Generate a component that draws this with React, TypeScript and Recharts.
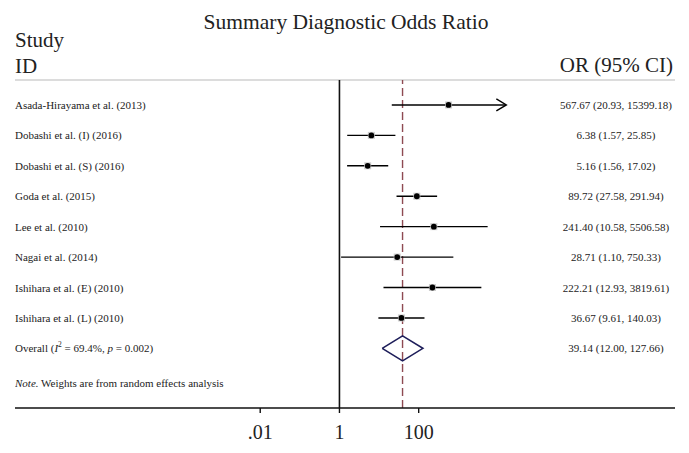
import React from "react";
import { ComposedChart, Scatter, XAxis, YAxis, ReferenceLine, ErrorBar } from "recharts";

// Study rows
const studies = [
    "Asada-Hirayama et al. (2013)",
    "Dobashi et al. (I) (2016)",
    "Dobashi et al. (S) (2016)",
    "Goda et al. (2015)",
    "Lee et al. (2010)",
    "Nagai et al. (2014)",
    "Ishihara et al. (E) (2010)",
    "Ishihara et al. (L) (2010)",
];
const oddsRatios = [567.67, 6.38, 5.16, 89.72, 241.4, 28.71, 222.21, 36.67];
const lowerCI = [20.93, 1.57, 1.56, 27.58, 10.58, 1.1, 12.93, 9.61];
const upperCI = [15399.18, 25.85, 17.02, 291.94, 5506.58, 750.33, 3819.61, 140.03];

const overallOR = 39.14;
const overallLower = 12.0;
const overallUpper = 127.66;

const xTicks = [0.01, 1, 100];
const xTickLabels = [".01", "1", "100"];

const FONT = "'Liberation Serif', 'Times New Roman', serif";
const W = 689;
const H = 453;

// log axis spans the whole panel, like Stata's forest plot (text columns sit inside it)
const xMin = Math.pow(10, -8.19);
const xMax = Math.pow(10, 8.47);
const yTop = -0.82;
const yBottom = 9.96;
const overallRow = studies.length;
const noteRow = 9.15;
const arrowLimit = 10000;
const diamondHalf = 0.41;

const fmt = (v: number) => v.toFixed(2);

const studyData = studies.map((s, i) => ({
    x: oddsRatios[i],
    y: i,
    err: [oddsRatios[i] - lowerCI[i], upperCI[i] - oddsRatios[i]],
}));

const arrowData = studies
    .map((s, i) => ({ x: upperCI[i], y: i }))
    .filter((d) => d.x > arrowLimit);

const diamondData = [
    { x: overallLower, y: overallRow },
    { x: overallOR, y: overallRow - diamondHalf },
    { x: overallUpper, y: overallRow },
    { x: overallOR, y: overallRow + diamondHalf },
    { x: overallLower, y: overallRow },
];

const labelData = [
    ...studies.map((s, i) => ({
        x: xMin,
        y: i,
        kind: "study",
        label: s,
        ci: `${fmt(oddsRatios[i])} (${fmt(lowerCI[i])}, ${fmt(upperCI[i])})`,
    })),
    {
        x: xMin,
        y: overallRow,
        kind: "overall",
        label: "",
        ci: `${fmt(overallOR)} (${fmt(overallLower)}, ${fmt(overallUpper)})`,
    },
    { x: xMin, y: noteRow, kind: "note", label: "", ci: "" },
];

const textStyle = { fontFamily: FONT, fontSize: 11, fill: "#222" };

const RowLabel = (props: any) => {
    const { cx, cy, payload } = props;
    let left: React.ReactNode = payload.label;
    if (payload.kind === "overall") {
        left = (
            <>
                Overall (<tspan fontStyle="italic">I</tspan>
                <tspan dy={-4} fontSize={7.5}>2</tspan>
                <tspan dy={4}> = 69.4%, </tspan>
                <tspan fontStyle="italic">p</tspan> = 0.002)
            </>
        );
    } else if (payload.kind === "note") {
        left = (
            <>
                <tspan fontStyle="italic">Note.</tspan> Weights are from random effects analysis
            </>
        );
    }
    return (
        <g>
            <text x={cx} y={cy} dominantBaseline="central" {...textStyle}>
                {left}
            </text>
            {payload.ci ? (
                <text x={616} y={cy} dominantBaseline="central" textAnchor="middle" {...textStyle}>
                    {payload.ci}
                </text>
            ) : null}
        </g>
    );
};

const Marker = (props: any) => {
    const { cx, cy } = props;
    return (
        <g>
            <rect x={cx - 3.5} y={cy - 3.5} width={7} height={7} fill="#cdcdcd" />
            <circle cx={cx} cy={cy} r={2.9} fill="#000" />
        </g>
    );
};

const Arrow = (props: any) => {
    const { cx, cy } = props;
    return (
        <path
            d={`M${cx - 9},${cy - 6} L${cx + 1},${cy} L${cx - 9},${cy + 6}`}
            fill="none"
            stroke="#000"
            strokeWidth={1.4}
        />
    );
};

const Nothing = () => <g />;

export default function App() {
    return (
        <div style={{ position: "absolute", left: 0, top: 0, width: W, height: H, background: "#fff" }}>
            <ComposedChart width={W} height={H} margin={{ top: 80, right: 14, bottom: 0, left: 15 }}>
                <XAxis
                    type="number"
                    dataKey="x"
                    scale="log"
                    domain={[xMin, xMax]}
                    allowDataOverflow
                    ticks={xTicks}
                    tickFormatter={(v: number) => xTickLabels[xTicks.indexOf(v)] ?? ""}
                    height={45}
                    axisLine={{ stroke: "#111", strokeWidth: 1.6 }}
                    tickLine={{ stroke: "#111", strokeWidth: 1.4 }}
                    tickSize={5}
                    tickMargin={12}
                    tick={{ fill: "#222", fontSize: 20, fontFamily: FONT }}
                />
                <YAxis type="number" dataKey="y" domain={[yTop, yBottom]} allowDataOverflow reversed hide />
                <ReferenceLine y={yTop} stroke="#dcdcdc" strokeWidth={2} />
                <ReferenceLine x={1} stroke="#111" strokeWidth={1.6} />
                <ReferenceLine x={overallOR} stroke="#8e4a52" strokeWidth={1.4} strokeDasharray="8 4" />
                <Scatter data={labelData} shape={RowLabel} isAnimationActive={false} />
                <Scatter data={studyData} shape={Marker} isAnimationActive={false}>
                    <ErrorBar dataKey="err" direction="x" width={0} stroke="#000" strokeWidth={1.4} />
                </Scatter>
                <Scatter data={arrowData} shape={Arrow} isAnimationActive={false} />
                <Scatter
                    data={diamondData}
                    line={{ stroke: "#1e1e5a", strokeWidth: 1.6 }}
                    lineType="joint"
                    shape={Nothing}
                    isAnimationActive={false}
                />
            </ComposedChart>
            <svg width={W} height={90} style={{ position: "absolute", left: 0, top: 0, pointerEvents: "none" }}>
                <text x={346} y={29} textAnchor="middle" fontFamily={FONT} fontSize={21.5} fill="#222">
                    Summary Diagnostic Odds Ratio
                </text>
                <text x={15} y={47} fontFamily={FONT} fontSize={21} fill="#222">
                    Study
                </text>
                <text x={15} y={73} fontFamily={FONT} fontSize={21} fill="#222">
                    ID
                </text>
                <text x={673} y={72} textAnchor="end" fontFamily={FONT} fontSize={21} fill="#222">
                    OR (95% CI)
                </text>
            </svg>
        </div>
    );
}
